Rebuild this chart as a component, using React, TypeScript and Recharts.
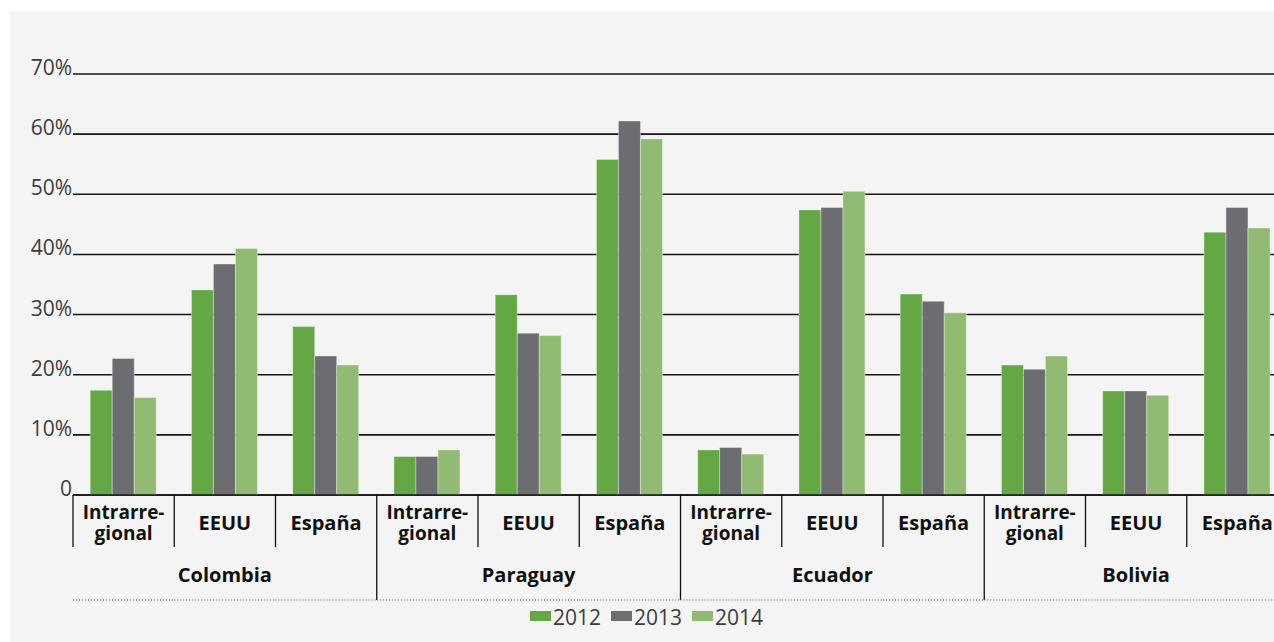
import React from "react"
import { BarChart, Bar, XAxis, YAxis, CartesianGrid } from "recharts"

const countries = ["Colombia", "Paraguay", "Ecuador", "Bolivia"]
const destinations = ["Intrarregional", "EEUU", "España"]
const years = ["2012", "2013", "2014"]

// share of emigrants by destination, %
const v2012 = [17.4, 34.1, 28.0, 6.4, 33.3, 55.8, 7.5, 47.4, 33.4, 21.6, 17.3, 43.7]
const v2013 = [22.7, 38.4, 23.1, 6.4, 26.9, 62.2, 7.9, 47.8, 32.2, 20.9, 17.3, 47.8]
const v2014 = [16.2, 41.0, 21.6, 7.5, 26.5, 59.2, 6.8, 50.5, 30.3, 23.1, 16.6, 44.4]

const yTicks = [0, 10, 20, 30, 40, 50, 60, 70]

const COLORS = ["#63a845", "#6c6d71", "#91bb73"]
const FONT = "'Open Sans', 'Noto Sans', sans-serif"

const CHART_W = 1288
const CHART_H = 642
const PLOT_LEFT = 73
const BAND = (CHART_W - PLOT_LEFT) / (countries.length * destinations.length)

const data = countries.flatMap((country, ci) =>
  destinations.map((sub, di) => {
    const i = ci * destinations.length + di
    return { country, sub, y2012: v2012[i], y2013: v2013[i], y2014: v2014[i] }
  })
)

const SUB_LINES: Record<string, string[]> = {
  Intrarregional: ["Intrarre-", "gional"],
}

function SubTick(props: any) {
  const { x, y, payload, index } = props
  const lines = SUB_LINES[payload.value] ?? [payload.value]
  const left = x - BAND / 2
  const groupStart = index % destinations.length === 0 && index > 0
  return (
    <g>
      <line x1={left} x2={left} y1={y} y2={y + (groupStart ? 105 : 52)} stroke="#111" strokeWidth={1.3} />
      {lines.length === 1 ? (
        <text x={x} y={y + 35} textAnchor="middle" fontFamily={FONT} fontWeight={700} fontSize={20} fill="#111">
          {lines[0]}
        </text>
      ) : (
        <text textAnchor="middle" fontFamily={FONT} fontWeight={700} fontSize={19} fill="#111">
          <tspan x={x} y={y + 24}>{lines[0]}</tspan>
          <tspan x={x} y={y + 45}>{lines[1]}</tspan>
        </text>
      )}
    </g>
  )
}

function CountryTick(props: any) {
  const { x, y, payload, index } = props
  const mid = index % destinations.length === 1
  return (
    <g>
      <line
        x1={x - BAND / 2}
        x2={x + BAND / 2}
        y1={y + 53}
        y2={y + 53}
        stroke="#555"
        strokeWidth={1}
        strokeDasharray="1 2"
      />
      {mid && (
        <text x={x} y={y + 35} textAnchor="middle" fontFamily={FONT} fontWeight={700} fontSize={20} fill="#111">
          {payload.value}
        </text>
      )}
    </g>
  )
}

function YTick(props: any) {
  const { x, y, payload } = props
  return (
    <text x={x} y={y + 1} textAnchor="end" fontFamily={FONT} fontSize={21} fill="#3c3c3c">
      {payload.value === 0 ? "0" : `${payload.value}%`}
    </text>
  )
}

export default function App() {
  return (
    <div
      style={{
        position: "fixed",
        left: 0,
        top: 0,
        width: 1274,
        height: 642,
        overflow: "hidden",
        background: "#ffffff",
      }}
    >
      <div style={{ position: "absolute", left: 10, top: 11, right: 0, bottom: 0, background: "#f3f4f3" }} />
      <div style={{ position: "absolute", left: 0, top: 0 }}>
        <BarChart
          width={CHART_W}
          height={CHART_H}
          data={data}
          margin={{ top: 74, right: 0, bottom: 42, left: 10 }}
          barCategoryGap="17%"
          barGap={0}
        >
          <CartesianGrid xAxisId={0} vertical={false} stroke="#161616" strokeWidth={1.6} />
          <XAxis
            xAxisId={0}
            dataKey="sub"
            interval={0}
            height={52}
            tickSize={0}
            tickMargin={0}
            axisLine={{ stroke: "#111", strokeWidth: 1.6 }}
            tick={<SubTick />}
          />
          <XAxis
            xAxisId={1}
            dataKey="country"
            interval={0}
            height={53}
            tickSize={0}
            tickMargin={0}
            axisLine={false}
            tick={<CountryTick />}
          />
          <YAxis
            width={63}
            domain={[0, 70]}
            ticks={yTicks}
            interval={0}
            tickSize={0}
            tickMargin={1}
            axisLine={false}
            tick={<YTick />}
          />
          {years.map((yr, i) => (
            <Bar
              key={yr}
              xAxisId={0}
              dataKey={`y${yr}`}
              name={yr}
              fill={COLORS[i]}
              stroke="rgba(255,255,255,0.35)"
              strokeWidth={1}
              isAnimationActive={false}
            />
          ))}
        </BarChart>
      </div>
      <div
        style={{
          position: "absolute",
          left: 530,
          top: 603,
          display: "flex",
          alignItems: "center",
          fontFamily: FONT,
          fontSize: 21,
          color: "#3c3c3c",
          lineHeight: "28px",
        }}
      >
        {years.map((yr, i) => (
          <div key={yr} style={{ display: "flex", alignItems: "center", marginRight: 10 }}>
            <span style={{ display: "inline-block", width: 21, height: 10, background: COLORS[i], marginRight: 2, marginTop: -3 }} />
            <span>{yr}</span>
          </div>
        ))}
      </div>
    </div>
  )
}
